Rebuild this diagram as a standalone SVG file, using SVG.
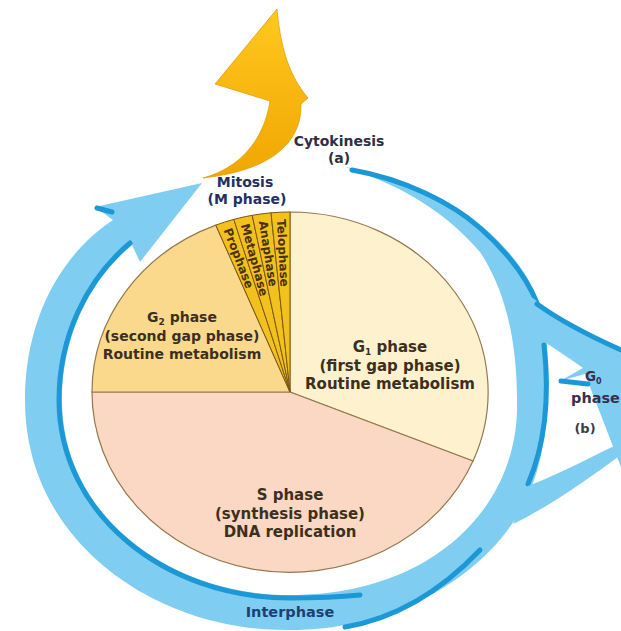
<svg xmlns="http://www.w3.org/2000/svg" width="621" height="631" viewBox="0 0 621 631">
<defs>
<style>
.t{font-family:"DejaVu Sans","Liberation Sans",sans-serif;font-weight:bold;}
.pie{stroke:#94784e;stroke-width:1.2;}
.mit{fill:#f3c11e;stroke:#7a5810;stroke-width:1;}
.ml{font-family:"DejaVu Sans","Liberation Sans",sans-serif;font-weight:bold;font-size:12px;fill:#4a3208;dominant-baseline:central;}
.lbl{fill:#3b3020;text-anchor:middle;}
.band{fill:#7fcef2;}
.edge{fill:none;stroke:#1b98d5;stroke-width:5;stroke-linecap:round;}
</style>
<linearGradient id="yg" x1="0" y1="0" x2="0" y2="1">
<stop offset="0" stop-color="#ffc820"/>
<stop offset="1" stop-color="#f0a600"/>
</linearGradient>
</defs>
<rect width="621" height="631" fill="#fff"/>

<g id="connectors">
<g id="cycle-arrow">
<path class="band" d="M345,167 C400,175 452,200 482,226 C510,250 530,276 540,305 C552,345 553,432 532,486 C500,570 400,630 290,630 C160,632 25,545 25,400 C25,320 60,255 113,220 L95,207 L202,183 L140,262 L132,245 C88,282 62,338 62,400 C62,512 165,595 290,595 C430,595 515,510 517,410 C518,340 505,290 480,252 C440,205 390,182 345,167 Z"/>
<path class="edge" d="M130,243 C86,280 59,337 59,400 C59,514 165,598 290,598 C318,598 340,597 360,595"/>
<path class="edge" stroke-width="2.5" d="M97,208 L112,212"/>
<path class="edge" d="M352,170 C404,179 452,203 480,228 C506,251 526,276 537,303"/>
<path class="edge" d="M544,345 C549,390 547,440 528,484"/>
<path class="edge" d="M480,550 C442,590 398,618 345,627"/>
</g>
<g id="g0-arrow">
<path class="band" d="M530,296 C558,318 590,336 621,348 L621,467 L585,374 L560,381 L583,368 C572,360 557,350 546,343 Z"/>
<path class="edge" d="M537,304 C562,322 592,337 621,350"/>
<path class="edge" stroke-width="2" d="M561,381 L588,384"/>
<path class="band" d="M528,486 C560,474 592,456 621,443 L621,455 C590,477 556,503 513,524 Z"/>
</g>
<g id="cytokinesis-arrow">
<path fill="url(#yg)" stroke="#e09a00" stroke-width="0.7" d="M203,178 C240,168 264,140 270,101 L215,84 L277,9 C280,40 286,72 308,98 L301,104 C302,140 275,170 203,178 Z"/>
</g>
</g>

<g id="g1-phase">
<path class="pie" fill="#fef1cd" d="M290,392 L290,212 A198,180 0 0 1 473,461 Z"/>
</g>
<g id="s-phase">
<path class="pie" fill="#fad8c3" d="M290,392 L473,461 A198,180 0 0 1 92,392 Z"/>
</g>
<g id="g2-phase">
<path class="pie" fill="#fbd98c" d="M290,392 L92,392 A198,180 0 0 1 215.8,225.1 Z"/>
</g>
<g id="prophase">
<path class="mit" d="M290,392 L215.8,225.1 A198,180 0 0 1 233.8,219.4 Z"/>
<text class="ml" transform="translate(227.2,228.6) rotate(69)">Prophase</text>
</g>
<g id="metaphase">
<path class="mit" d="M290,392 L233.8,219.4 A198,180 0 0 1 252.2,215.3 Z"/>
<text class="ml" transform="translate(244.7,224) rotate(74.9)">Metaphase</text>
</g>
<g id="anaphase">
<path class="mit" d="M290,392 L252.2,215.3 A198,180 0 0 1 271,212.8 Z"/>
<text class="ml" transform="translate(262.7,220.8) rotate(80.9)">Anaphase</text>
</g>
<g id="telophase">
<path class="mit" d="M290,392 L271,212.8 A198,180 0 0 1 290,212 Z"/>
<text class="ml" transform="translate(280.9,219.2) rotate(87)">Telophase</text>
</g>

<g id="labels">
<text class="t" font-size="14" fill="#2d2f45" text-anchor="middle" x="339" y="146">Cytokinesis</text>
<text class="t" font-size="14" fill="#2d2f45" text-anchor="middle" x="339" y="163">(a)</text>
<text class="t" font-size="14" fill="#23305f" text-anchor="middle" x="245" y="187">Mitosis</text>
<text class="t" font-size="14" fill="#23305f" text-anchor="middle" x="247" y="204">(M phase)</text>

<text class="t lbl" font-size="14" x="182" y="322">G<tspan font-size="9" dy="3">2</tspan><tspan dy="-3"> phase</tspan></text>
<text class="t lbl" font-size="14" x="182" y="341">(second gap phase)</text>
<text class="t lbl" font-size="14" x="182" y="359">Routine metabolism</text>

<text class="t lbl" font-size="15" x="390" y="352">G<tspan font-size="9" dy="3">1</tspan><tspan dy="-3"> phase</tspan></text>
<text class="t lbl" font-size="15" x="390" y="371">(first gap phase)</text>
<text class="t lbl" font-size="15" x="390" y="389">Routine metabolism</text>

<text class="t lbl" font-size="15" x="290" y="500">S phase</text>
<text class="t lbl" font-size="15" x="290" y="519">(synthesis phase)</text>
<text class="t lbl" font-size="15" x="290" y="537">DNA replication</text>

<text class="t" font-size="14.5" fill="#1f3f73" text-anchor="middle" x="290" y="617">Interphase</text>

<text class="t" font-size="13.5" fill="#3a2e4a" x="585" y="381">G<tspan font-size="8" dy="2.5">0</tspan></text>
<text class="t" font-size="14.5" fill="#3a2e4a" x="571" y="403">phase</text>
<text class="t" font-size="13" fill="#3a3a4a" text-anchor="middle" x="585" y="433">(b)</text>
</g>
</svg>
